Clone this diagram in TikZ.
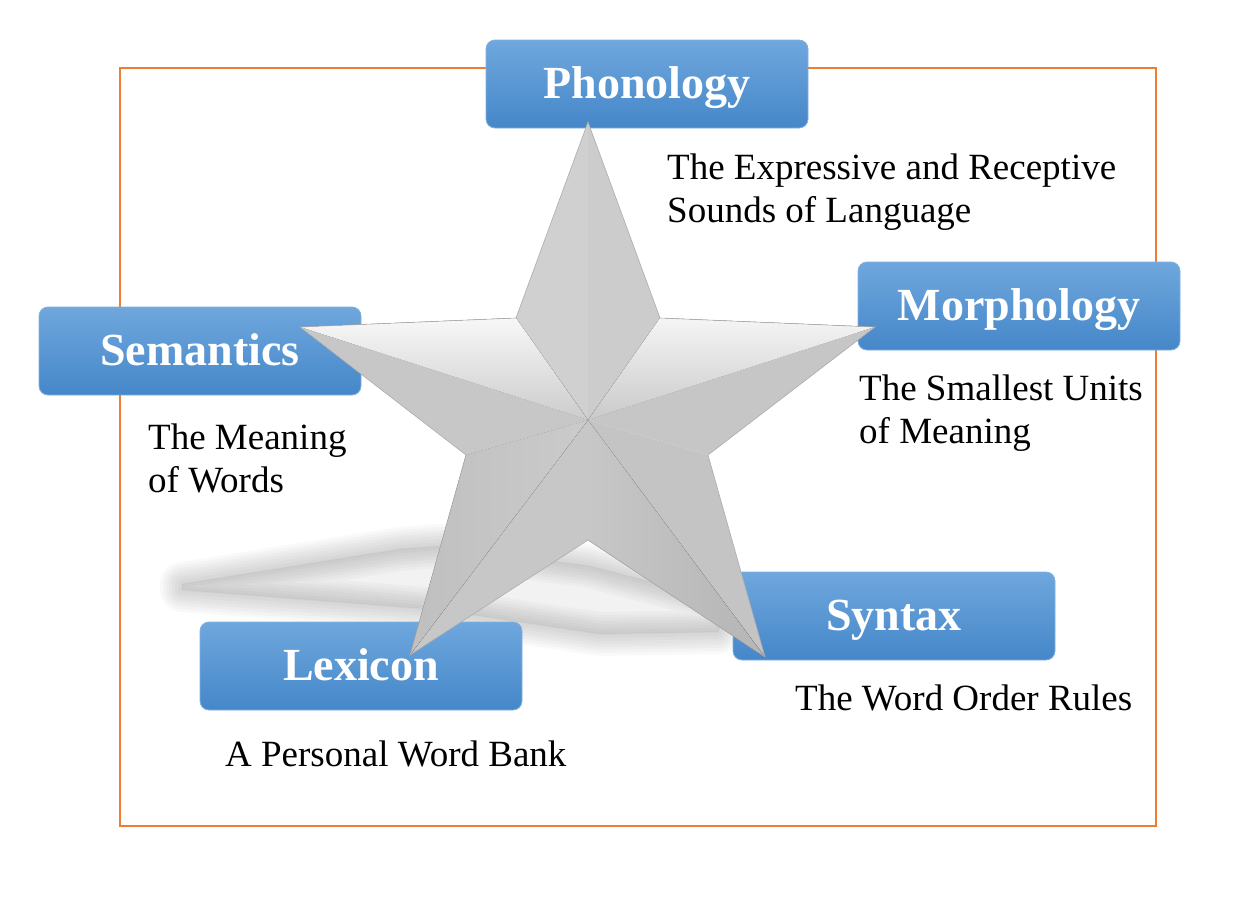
\documentclass[tikz,border=0pt]{standalone}
\usepackage{fontspec}
\setmainfont{Liberation Serif}
\usetikzlibrary{calc}

\definecolor{frameorange}{HTML}{ED7D31}
\definecolor{boxtop}{HTML}{6FA7DD}
\definecolor{boxbottom}{HTML}{4587C9}
\definecolor{boxedge}{HTML}{80B1E0}

\begin{document}
\begin{tikzpicture}[
    x=1pt, y=-1pt,
    topic/.style={rectangle, rounded corners=9pt, draw=boxedge, line width=0.8pt, top color=boxtop, bottom color=boxbottom, minimum width=322pt, minimum height=88pt, text height=32pt, text depth=4pt, text=white, font=\fontsize{46}{50}\selectfont\bfseries},
    note/.style={anchor=base west, inner sep=0pt, align=left, font=\fontsize{37}{43}\selectfont},
    rim/.style={draw=gray!65, line width=0.6pt, line join=miter}
]
\useasboundingbox (0,0) rectangle (1237,897);

\draw [frameorange, line width=2.2pt] (120,68) rectangle (1156,826);

\foreach \w in {44,38,32,26,20,14,8,2}
    \draw [black, opacity=0.022, line width=\w pt, line join=round] (182,584) -- (400,549) -- (440,546) -- (590,566) -- (728,602) -- (718,632) -- (600,634) -- (440,610) -- (182,590) -- cycle;
\fill [black, opacity=0.05] (182,584) -- (400,549) -- (440,546) -- (590,566) -- (728,602) -- (718,632) -- (600,634) -- (440,610) -- (182,590) -- cycle;

\node [topic] (phon) at (647,84) {Phonology};
\node [topic] (morph) at (1019,306) {Morphology};
\node [topic] (sem) at (200,351) {Semantics};
\node [topic] (syn) at (894,616) {Syntax};
\node [topic] (lex) at (361,666) {Lexicon};

\coordinate (c) at (588,420);
\coordinate (t1) at (588,122);
\coordinate (t2) at (875,327);
\coordinate (t3) at (765,657);
\coordinate (t4) at (410,655);
\coordinate (t5) at (300,327);
\coordinate (i1) at (660,318);
\coordinate (i2) at (708,455);
\coordinate (i3) at (588,540);
\coordinate (i4) at (466,455);
\coordinate (i5) at (516,318);

\fill [color=gray!37] (c) -- (t1) -- (i5) -- cycle;
\fill [color=gray!40] (c) -- (t1) -- (i1) -- cycle;
\fill [top color=gray!8, bottom color=gray!42] (c) -- (t2) -- (i1) -- cycle;
\fill [color=gray!45] (c) -- (t2) -- (i2) -- cycle;
\fill [color=gray!46] (c) -- (t3) -- (i2) -- cycle;
\fill [left color=gray!44, right color=gray!58] (c) -- (t3) -- (i3) -- cycle;
\fill [color=gray!44] (c) -- (t4) -- (i3) -- cycle;
\fill [left color=gray!50, right color=gray!41] (c) -- (t4) -- (i4) -- cycle;
\fill [top color=gray!6, bottom color=gray!40] (c) -- (t5) -- (i5) -- cycle;
\fill [color=gray!44] (c) -- (t5) -- (i4) -- cycle;
\draw [rim] (t1) -- (i1) -- (t2) -- (i2) -- (t3) -- (i3) -- (t4) -- (i4) -- (t5) -- (i5) -- cycle;

\node [note] (phondesc) at (667,222) {The Expressive and Receptive\\Sounds of Language};
\node [note] (morphdesc) at (859,443) {The Smallest Units\\of Meaning};
\node [note] (semdesc) at (148,492) {The Meaning\\of Words};
\node [note] (syndesc) at (795,710) {The Word Order Rules};
\node [note] (lexdesc) at (225,766) {A Personal Word Bank};

\end{tikzpicture}
\end{document}
